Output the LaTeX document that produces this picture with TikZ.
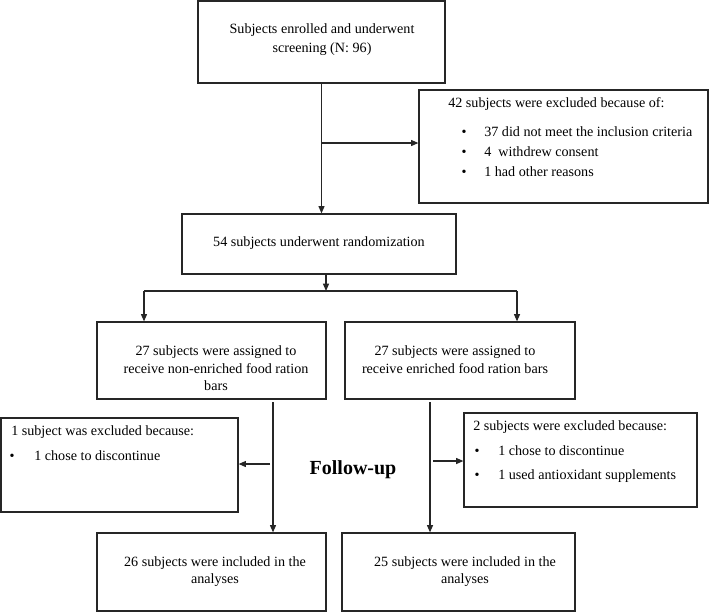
\documentclass[tikz,border=0pt]{standalone}
\usepackage{fontspec}
\setmainfont{Liberation Serif}
\usetikzlibrary{arrows.meta,fit}

\tikzset{
	box/.style={draw=black!85, line width=0.9pt, inner sep=0pt},
	txtline/.style={inner sep=0pt, font=\fontsize{10.6}{13.1}\selectfont, text height=7.5pt, text depth=2.7pt},
	txtblock/.style={inner sep=0pt, align=center, font=\fontsize{10.6}{13.1}\selectfont},
	conn/.style={draw=black!85, line width=0.9pt, -{Triangle[length=5.5pt,width=4.5pt]}},
	wire/.style={draw=black!85, line width=0.9pt}
}

\begin{document}
\begin{tikzpicture}[x=0.75pt,y=0.75pt,yscale=-1]
	\useasboundingbox (0,0) rectangle (709,612);

	% Boxes
	\node [box, fit={(198,1) (445,83)}] (screen) {};
	\node [box, fit={(419,90) (708,203)}] (excl) {};
	\node [box, fit={(182,214) (456,274)}] (rand) {};
	\node [box, fit={(97,322) (326,399)}] (nonenr) {};
	\node [box, fit={(345,322) (575,399)}] (enr) {};
	\node [box, fit={(1,418) (238,512)}] (exclL) {};
	\node [box, fit={(464,413) (697,507)}] (exclR) {};
	\node [box, fit={(97,533) (326,611)}] (inclL) {};
	\node [box, fit={(342,533) (575,611)}] (inclR) {};

	% Text Node
	\node [txtblock, font=\fontsize{10.6}{14.25}\selectfont] (screenT) at (322,39.5) {Subjects enrolled and underwent\\screening (N: 96)};
	% Text Node
	\node [txtline, anchor=west] (exclT) at (448,104) {42 subjects were excluded because of:};
	\node [txtline] (exclB1) at (464,133) {\textbullet};
	\node [txtline] (exclB2) at (464,153) {\textbullet};
	\node [txtline] (exclB3) at (464,173) {\textbullet};
	\node [txtline, anchor=west] (exclT1) at (484,133) {37 did not meet the inclusion criteria};
	\node [txtline, anchor=west] (exclT2) at (484,153) {4\ \ withdrew consent};
	\node [txtline, anchor=west] (exclT3) at (484,173) {1 had other reasons};
	% Text Node
	\node [txtline] (randT) at (319,243) {54 subjects underwent randomization};
	% Text Node
	\node [txtblock] (nonenrT) at (216,368.5) {27 subjects were assigned to\\receive non-enriched food ration\\bars};
	\node [txtblock] (enrT) at (455,359.5) {27 subjects were assigned to\\receive enriched food ration bars};
	% Text Node
	\node [txtline, anchor=west] (exclLT) at (11,432) {1 subject was excluded because:};
	\node [txtline] (exclLB1) at (12,457) {\textbullet};
	\node [txtline, anchor=west] (exclLT1) at (34,457) {1 chose to discontinue};
	% Text Node
	\node [txtline, anchor=west] (exclRT) at (473,427) {2 subjects were excluded because:};
	\node [txtline] (exclRB1) at (477,452) {\textbullet};
	\node [txtline] (exclRB2) at (477,476) {\textbullet};
	\node [txtline, anchor=west] (exclRT1) at (498,452) {1 chose to discontinue};
	\node [txtline, anchor=west] (exclRT2) at (498,476) {1 used antioxidant supplements};
	% Text Node
	\node [inner sep=0pt, font=\bfseries\fontsize{15}{18}\selectfont] (follow) at (353,470) {Follow-up};
	% Text Node
	\node [txtblock] (inclLT) at (215,571.5) {26 subjects were included in the\\analyses};
	\node [txtblock] (inclRT) at (465,571.5) {25 subjects were included in the\\analyses};

	% Connection
	\draw [conn] (screen.south) -- (screen.south |- rand.north);
	\coordinate (split) at (322,143);
	\draw [conn] (split) -- (split -| excl.west);
	% Connection
	\coordinate (fork) at (326,291);
	\coordinate (forkL) at (144,291);
	\coordinate (forkR) at (517,291);
	\draw [conn] (fork |- rand.south) -- (fork);
	\draw [wire] (forkL) -- (forkR);
	\draw [conn] (forkL) -- (forkL |- nonenr.north);
	\draw [conn] (forkR) -- (forkR |- enr.north);
	% Connection
	\coordinate (downL) at (273,402);
	\coordinate (sideL) at (270,464);
	\draw [conn] (downL) -- (downL |- inclL.north);
	\draw [conn] (sideL) -- (sideL -| exclL.east);
	% Connection
	\coordinate (downR) at (430,402);
	\coordinate (sideR) at (433,461);
	\draw [conn] (downR) -- (downR |- inclR.north);
	\draw [conn] (sideR) -- (sideR -| exclR.west);

\end{tikzpicture}
\end{document}
